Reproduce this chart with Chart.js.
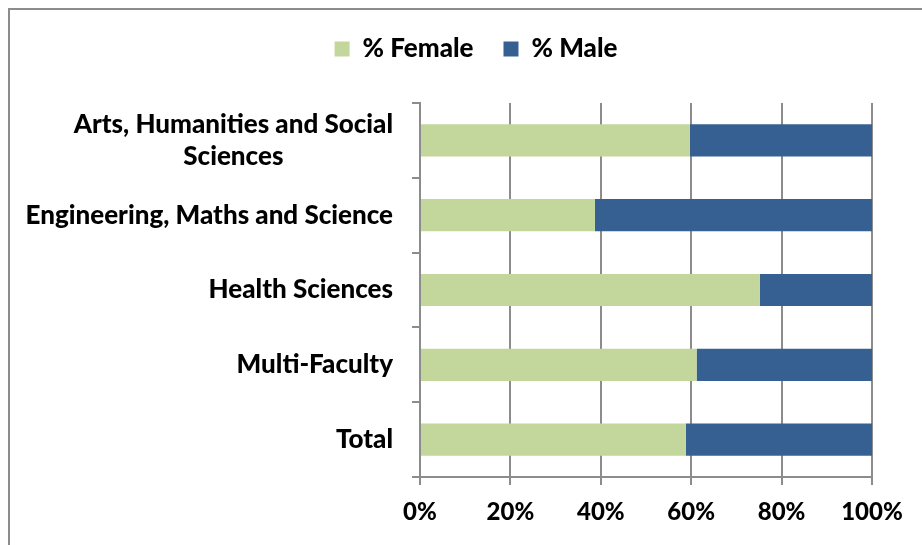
<!DOCTYPE html>
<html>
<head>
<meta charset="utf-8">
<script src="https://cdn.jsdelivr.net/npm/chart.js@4"></script>
<style>
html,body{margin:0;padding:0;background:#fff;overflow:hidden;width:922px;height:545px}
#frame{position:absolute;left:8px;top:8px;width:1000px;height:1000px;border-left:2px solid #8c8c8c;border-top:2px solid #8c8c8c;}
#wrap{position:absolute;left:0;top:0;width:922px;height:545px}
</style>
</head>
<body>
<div id="frame"></div>
<div id="wrap"><canvas id="c" width="922" height="545"></canvas></div>
<script>
const categories = [['Arts, Humani\u200Cties and Social','Sciences'],'Engineering, Maths and Science','Health Sciences','Multi-Faculty','Total'];
const femalePct = [59.7, 38.7, 75.2, 61.2, 58.8];
const malePct = [40.3, 61.3, 24.8, 38.8, 41.2];
const xTickLabels = ['0%','20%','40%','60%','80%','100%'];
const seriesNames = ['% Female','% Male'];

const FONT = 'Lato';
const FS = 26;
const LABEL_RIGHT = 393;
const TOP_PAD = 6;
const LEFT_PAD = 80;
const AREA_TOP = 103;
const AREA_LEFT = 420;

const yLabelPlugin = {
  id: 'yLabels',
  afterDraw(chart) {
    const ctx = chart.ctx, y = chart.scales.y;
    ctx.save();
    ctx.font = '900 ' + FS + 'px ' + FONT;
    ctx.fillStyle = '#000';
    ctx.textBaseline = 'middle';
    ctx.textAlign = 'center';
    categories.forEach((lab, i) => {
      const lines = Array.isArray(lab) ? lab : [lab];
      const w = Math.max(...lines.map(l => ctx.measureText(l).width));
      const cy = y.getPixelForValue(i);
      const lh = 32;
      lines.forEach((l, j) => {
        ctx.fillText(l, LABEL_RIGHT - w / 2, cy + (j - (lines.length - 1) / 2) * lh);
      });
    });
    ctx.restore();
  }
};

const legendHeightPlugin = {
  id: 'legendHeight',
  afterInit(chart) {
    const lg = chart.legend;
    if (!lg) return;
    const f = lg.fit.bind(lg);
    lg.fit = function () { f(); this.height = AREA_TOP - TOP_PAD; };
  }
};

const chart = new Chart(document.getElementById('c'), {
  type: 'bar',
  data: {
    labels: categories,
    datasets: [
      {label: seriesNames[0], data: femalePct, backgroundColor: '#C3D69B', barPercentage: 0.43, categoryPercentage: 1},
      {label: seriesNames[1], data: malePct, backgroundColor: '#376092', barPercentage: 0.43, categoryPercentage: 1}
    ]
  },
  options: {
    indexAxis: 'y',
    responsive: false,
    animation: false,
    devicePixelRatio: 1,
    layout: {padding: {top: TOP_PAD, right: 50, left: LEFT_PAD, bottom: 0}},
    plugins: {
      tooltip: {enabled: false},
      legend: {
        position: 'top',
        labels: {boxWidth: 15, boxHeight: 15, color: '#000', padding: 30, font: {family: FONT, size: FS, weight: '900'}}
      }
    },
    scales: {
      x: {
        stacked: true, min: 0, max: 100,
        ticks: {stepSize: 20, color: '#000', padding: 13, font: {family: FONT, size: 24, weight: '900'},
          callback: (v, i) => xTickLabels[i]},
        grid: {color: '#8c8c8c', lineWidth: 2, tickLength: 8, drawTicks: true},
        border: {display: true, color: '#8c8c8c', width: 2},
        afterFit: s => { s.height = 68; }
      },
      y: {
        stacked: true,
        ticks: {display: false},
        grid: {offset: true, drawOnChartArea: false, drawTicks: true, tickLength: 8, color: '#8c8c8c', lineWidth: 2},
        border: {display: true, color: '#8c8c8c', width: 2},
        afterFit: s => { s.width = AREA_LEFT - LEFT_PAD; }
      }
    }
  },
  plugins: [legendHeightPlugin, yLabelPlugin]
});
chart.update();
</script>
</body>
</html>
